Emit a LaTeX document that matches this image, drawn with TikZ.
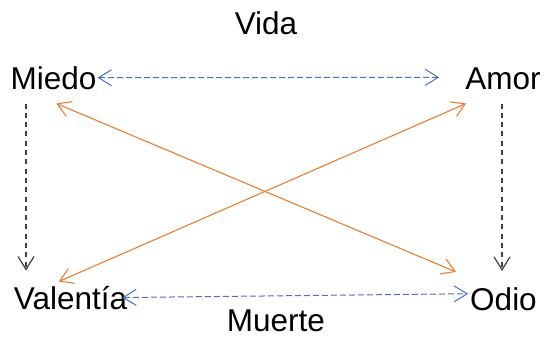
\documentclass[tikz,border=0pt]{standalone}
\usepackage{fontspec}
\setmainfont{Liberation Sans}
\usetikzlibrary{arrows.meta}
\definecolor{cblue}{HTML}{4472C4}
\definecolor{corange}{HTML}{ED7D31}
\definecolor{cgray}{HTML}{404040}
\tikzset{
  >={Straight Barb[length=13pt,width=16pt]},
  lbl/.style={inner sep=0pt, anchor=base, font=\fontsize{31.5}{36}\selectfont},
  bluelink/.style={cblue, line width=1pt, dash pattern=on 6pt off 3pt, <->},
  orangelink/.style={corange, line width=1.1pt, <->},
  graylink/.style={cgray, line width=1.2pt, dash pattern=on 5pt off 4.3pt, ->},
}
\begin{document}
\begin{tikzpicture}[x=1pt,y=-1pt]
\useasboundingbox (0,0) rectangle (547,339);
\node[lbl] (vida) at (266,35) {Vida};
\node[lbl] (miedo) at (53.5,90) {Miedo};
\node[lbl] (amor) at (503,90) {Amor};
\node[lbl] (valentia) at (70.5,310) {Valentía};
\node[lbl] (odio) at (503.5,311) {Odio};
\node[lbl] (muerte) at (276,332) {Muerte};

\coordinate (ls) at ([shift={(-27.5,13)}]miedo.south);
\coordinate (rs) at ([shift={(-1,13)}]amor.south);

\draw[bluelink] ([shift={(1,-1)}]miedo.east) -- ([shift={(-26,-2)}]amor.west);
\draw[bluelink] ([shift={(-5,-1)}]valentia.east) -- ([shift={(-2,-6)}]odio.west);
\draw[graylink] (ls) -- ([yshift=16pt]ls |- valentia.north);
\draw[graylink] (rs) -- ([yshift=17pt]rs |- odio.north);
\draw[orangelink] ([shift={(46,13)}]miedo.south west) -- ([shift={(-14,-16)}]odio.north west);
\draw[orangelink] ([shift={(45,-5)}]valentia.north west) -- ([shift={(1,13)}]amor.south west);
\end{tikzpicture}
\end{document}
